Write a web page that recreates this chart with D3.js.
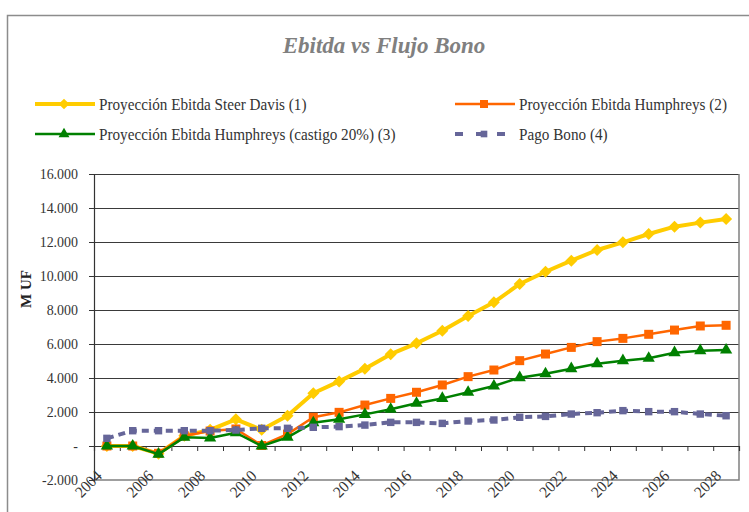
<!DOCTYPE html>
<html>
<head>
<meta charset="utf-8">
<script src="https://cdn.jsdelivr.net/npm/d3@7/dist/d3.min.js"></script>
<style>
  html, body { margin: 0; padding: 0; background: #fff; }
  svg { display: block; }
  svg text { font-family: "Liberation Serif", "Times New Roman", "DejaVu Serif", serif; }
</style>
</head>
<body>
<svg id="chart" width="749" height="512"></svg>
<script>
// Years on the category axis
const years = ["2004","2005","2006","2007","2008","2009","2010","2011","2012","2013","2014","2015","2016",
               "2017","2018","2019","2020","2021","2022","2023","2024","2025","2026","2027","2028"];
// Labelled years (every second one)
const yearLabels = ["2004","2006","2008","2010","2012","2014","2016","2018","2020","2022","2024","2026","2028"];
// Value axis ticks (M UF)
const yTicks = [-2000, 0, 2000, 4000, 6000, 8000, 10000, 12000, 14000, 16000];

// Series (M UF)
const steerDavis = [0, 0, -450, 600, 950, 1570, 950, 1780, 3100, 3800, 4550, 5400, 6040, 6780, 7650, 8450,
                    9530, 10250, 10900, 11530, 11980, 12470, 12900, 13140, 13350];
const humphreys = [0, 0, -430, 600, 880, 1000, 30, 700, 1690, 1980, 2410, 2800, 3160, 3590, 4080, 4470,
                   5020, 5410, 5800, 6140, 6330, 6570, 6820, 7060, 7100];
const humphreysCastigo = [0, 0, -480, 510, 470, 780, 0, 510, 1370, 1570, 1860, 2160, 2510, 2800, 3160, 3530,
                          4020, 4250, 4550, 4840, 5020, 5160, 5490, 5610, 5650];
const pagoBono = [450, 900, 900, 900, 900, 940, 1040, 1040, 1100, 1140, 1230, 1390, 1390, 1330, 1470, 1530,
                  1690, 1740, 1880, 1960, 2080, 2020, 2020, 1880, 1780];

const seriesNames = ["Proyección Ebitda Steer Davis (1)", "Proyección Ebitda Humphreys (2)",
                     "Proyección Ebitda Humphreys (castigo 20%) (3)", "Pago Bono (4)"];

// Marker styles: the diamond is a square turned by 45 degrees
const series = [
  { name: seriesNames[0], values: steerDavis, color: "#FFCC00", width: 4, symbol: d3.symbolSquare, rotate: 45, size: 72, dash: null },
  { name: seriesNames[1], values: humphreys, color: "#FF6600", width: 2.5, symbol: d3.symbolSquare, rotate: 0, size: 81, dash: null },
  { name: seriesNames[2], values: humphreysCastigo, color: "#008000", width: 2.5, symbol: d3.symbolTriangle, rotate: 0, size: 65, dash: null },
  { name: seriesNames[3], values: pagoBono, color: "#666699", width: 4, symbol: d3.symbolSquare, rotate: 0, size: 55, dash: "7,5" }
];

const svg = d3.select("#chart");
const plot = { left: 94, right: 739, top: 174, bottom: 480 };

// Outer chart frame
svg.append("rect")
  .attr("x", 7.5).attr("y", 15.5).attr("width", 760).attr("height", 520)
  .attr("fill", "none").attr("stroke", "#8c8c8c").attr("stroke-width", 1.5);

// Title
svg.append("text")
  .attr("x", 384).attr("y", 53)
  .attr("text-anchor", "middle")
  .attr("font-size", 23).attr("font-weight", "bold").attr("font-style", "italic")
  .attr("fill", "#808080")
  .text("Ebitda vs Flujo Bono");

// Scales
const x = d3.scaleBand().domain(years).range([plot.left, plot.right]).paddingInner(0).paddingOuter(0);
const xEdge = d3.scaleLinear().domain([0, years.length]).range([plot.left, plot.right]);
const y = d3.scaleLinear().domain([-2000, 16000]).range([plot.bottom, plot.top]);

const fmt = d3.formatLocale({ decimal: ",", thousands: ".", grouping: [3], currency: ["", ""], minus: "-" }).format(",.0f");

// Horizontal gridlines
svg.append("g")
  .selectAll("line")
  .data(yTicks.filter(v => v > -2000))
  .join("line")
  .attr("x1", plot.left).attr("x2", plot.right)
  .attr("y1", d => y(d)).attr("y2", d => y(d))
  .attr("stroke", "#3a3a3a").attr("stroke-width", 1)
  .attr("shape-rendering", "crispEdges");

// Plot area border (right and bottom)
svg.append("path")
  .attr("d", `M${plot.right},${plot.top}V${plot.bottom}H${plot.left}`)
  .attr("fill", "none").attr("stroke", "#808080").attr("stroke-width", 1.5);

// Value axis
const yAxis = svg.append("g")
  .attr("transform", `translate(${plot.left},0)`)
  .call(d3.axisLeft(y).tickValues(yTicks).tickSize(5).tickPadding(11)
    .tickFormat(d => d === 0 ? "-" : fmt(d)));
yAxis.select(".domain").attr("stroke", "#333").attr("stroke-width", 1.2);
yAxis.selectAll(".tick line").attr("stroke", "#333");
yAxis.selectAll(".tick text")
  .attr("font-size", 15.5).attr("fill", "#333")
  .attr("transform", "translate(-16,0) scale(0.9,1) translate(16,0)");

// Axis title
svg.append("text")
  .attr("transform", "translate(31,289) rotate(-90)")
  .attr("text-anchor", "middle")
  .attr("font-size", 15).attr("font-weight", "bold").attr("fill", "#222")
  .text("M UF");

// Category axis line at zero with ticks between categories
const xAxis = svg.append("g").attr("transform", `translate(0,${y(0)})`);
xAxis.call(d3.axisBottom(xEdge).tickValues(d3.range(0, years.length + 1)).tickSize(5).tickFormat(""));
xAxis.select(".domain").attr("stroke", "#333").attr("stroke-width", 1.2);
xAxis.selectAll(".tick line").attr("stroke", "#333");

// Year labels, rotated
const xLabels = svg.append("g").attr("transform", `translate(0,${y(0)})`);
xLabels.call(d3.axisBottom(x).tickValues(yearLabels).tickSize(0));
xLabels.select(".domain").remove();
xLabels.selectAll(".tick text")
  .attr("font-size", 16).attr("fill", "#333")
  .attr("text-anchor", "end")
  .attr("y", 0).attr("dy", "0.35em")
  .attr("transform", "translate(-8,27) rotate(-45) scale(0.95,1)");

// Series lines and markers
const line = d3.line().x((d, i) => x(years[i]) + x.bandwidth() / 2).y(d => y(d));

series.forEach(s => {
  const g = svg.append("g");
  g.append("path")
    .datum(s.values)
    .attr("d", line)
    .attr("fill", "none")
    .attr("stroke", s.color)
    .attr("stroke-width", s.width)
    .attr("stroke-linejoin", "round")
    .attr("stroke-dasharray", s.dash);
  g.selectAll("path.marker")
    .data(s.values)
    .join("path")
    .attr("class", "marker")
    .attr("d", d3.symbol().type(s.symbol).size(s.size))
    .attr("transform", (d, i) => `translate(${x(years[i]) + x.bandwidth() / 2},${y(d)}) rotate(${s.rotate})`)
    .attr("fill", s.color);
});

// Legend
const legendPos = [
  { x: 35, y: 104 }, { x: 455, y: 104 },
  { x: 35, y: 134 }, { x: 455, y: 134 }
];
series.forEach((s, i) => {
  const p = legendPos[i];
  const g = svg.append("g").attr("transform", `translate(${p.x},${p.y})`);
  g.append("line")
    .attr("x1", 0).attr("x2", 60).attr("y1", 0).attr("y2", 0)
    .attr("stroke", s.color).attr("stroke-width", s.width)
    .attr("stroke-dasharray", s.dash ? "8,13" : null);
  g.append("path")
    .attr("d", d3.symbol().type(s.symbol).size(s.size * 0.8))
    .attr("transform", `translate(29,0) rotate(${s.rotate})`)
    .attr("fill", s.color);
  g.append("text")
    .attr("transform", "translate(64,5.5) scale(0.95,1)")
    .attr("font-size", 16).attr("fill", "#333")
    .text(s.name);
});
</script>
</body>
</html>
